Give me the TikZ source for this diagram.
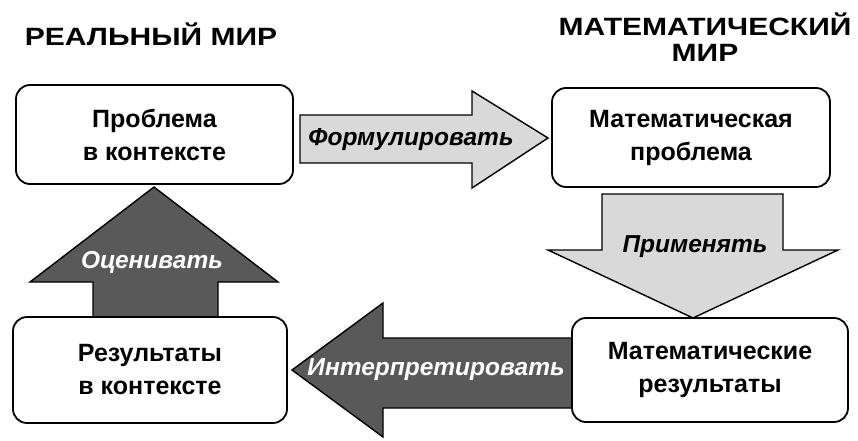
\documentclass[tikz,border=0pt]{standalone}
\usepackage{fontspec}
\setmainfont{Liberation Sans}
\newcommand{\widetitle}[1]{\scalebox{1.2}[1]{#1}}
\begin{document}
\begin{tikzpicture}[x=1pt,y=-1pt,
  box/.style={draw=black, line width=1.8pt, rounded corners=14pt, fill=white, align=center,
    font=\fontsize{25}{33}\selectfont\bfseries, inner sep=0pt},
  lightarrow/.style={draw=black, line width=1.4pt, fill=black!15, line join=miter},
  darkarrow/.style={draw=black, line width=1.4pt, fill=black!65, line join=miter},
  lbl/.style={font=\fontsize{24.5}{28}\selectfont\bfseries\itshape, inner sep=0pt},
  title/.style={font=\fontsize{25}{28}\selectfont\bfseries, align=center, inner sep=0pt}]
\useasboundingbox (0,0) rectangle (858,441);
\fill[white] (0,0) rectangle (858,441);

% titles
\node[title] (t1) at (151,34) {\widetitle{РЕАЛЬНЫЙ МИР}};
\node[title] (t2) at (705,24) {\widetitle{МАТЕМАТИЧЕСКИЙ}};
\node[title] (t3) at (705,53) {\widetitle{МИР}};

% block arrows
\draw[lightarrow] (300,115) -- (472,115) -- (472,91) -- (548,138) -- (472,188) -- (472,163) -- (300,163) -- cycle;
\node[lbl] (f) at (411,140) {Формулировать};

\draw[lightarrow] (602,194) -- (783,194) -- (783,250) -- (838,250) -- (693,318) -- (548,250) -- (602,250) -- cycle;
\node[lbl] (p) at (695,247) {Применять};

\draw[darkarrow] (580,338) -- (383,338) -- (383,303) -- (292,370) -- (383,437) -- (383,408) -- (580,408) -- cycle;
\node[lbl, text=white] (i) at (436,370) {Интерпретировать};

\draw[darkarrow] (93,325) -- (93,282) -- (30,282) -- (154,187) -- (278,282) -- (218,282) -- (218,325) -- cycle;
\node[lbl, text=white] (o) at (152,262) {Оценивать};

% boxes
\node[box, minimum width=277pt, minimum height=99pt] (b1) at (154.5,134.5) {Проблема\\в контексте};
\node[box, minimum width=278pt, minimum height=99pt] (b2) at (691,137.5) {Математическая\\проблема};
\node[box, minimum width=274pt, minimum height=106pt] (b3) at (150,370) {Результаты\\в контексте};
\node[box, minimum width=276pt, minimum height=104pt] (b4) at (710,370) {Математические\\результаты};
\end{tikzpicture}
\end{document}
